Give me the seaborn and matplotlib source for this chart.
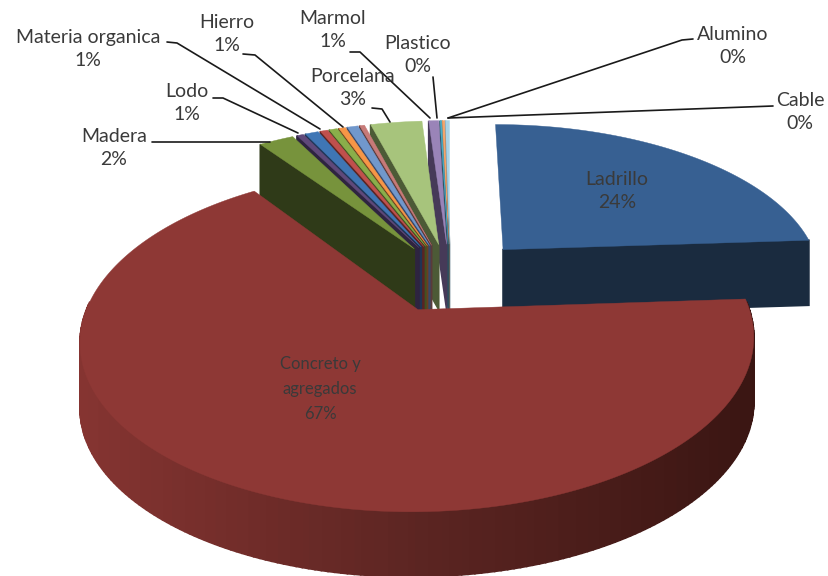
import numpy as np
import matplotlib
matplotlib.use("Agg")
import matplotlib.pyplot as plt
import seaborn as sns

# ---- data (clockwise from 12 o'clock) ----
slice_names = ["Ladrillo", "Concreto y agregados", "Madera", "", "Lodo", "", "Materia organica",
               "", "Hierro", "", "Porcelana", "Marmol", "Plastico", "Alumino", "Cable"]
slice_values = [23.9, 66.0, 2.1, 0.4, 0.8, 0.45, 0.5, 0.4, 0.65, 0.3, 3.1, 0.6, 0.1, 0.15, 0.25]
slice_explode = [0.25, 0.225, 0.22, 0.22, 0.22, 0.22, 0.22, 0.22, 0.22, 0.22, 0.22, 0.22, 0.22, 0.22, 0.22]
slice_colors = ["#376092", "#8E3835", "#77933C", "#5F497A", "#3F76B5", "#C0504D", "#8AAE4A",
                "#F79646", "#7198CC", "#C77A78", "#A7C47C", "#9A84B8", "#4BACC6", "#F4A46B", "#A9D3E6"]
wall_colors = ["#1A2B3F", "#3A1512", "#2F3A18", "#2E2440", "#1F3454", "#5A2422", "#3F5222",
               "#6A4020", "#38486A", "#5A3A3A", "#4C5A36", "#463A58", "#2A5060", "#705030", "#507080"]
label_text = ["Ladrillo\n24%", "Concreto y\nagregados\n67%", "Madera\n2%", "Lodo\n1%",
              "Materia organica\n1%", "Hierro\n1%", "Porcelana\n3%", "Marmol\n1%",
              "Plastico\n0%", "Alumino\n0%", "Cable\n0%"]

# ---- layout ----
CX, CY, RX, RY, K, DEPTH = 450, 277, 320, 155, 0.171, 65
label_pos = [(617, 191), (320, 389), (114, 148), (187, 103), (88, 49), (227, 34),
             (353, 88), (333, 30), (418, 55), (733, 46), (800, 112)]
label_size = [14, 12, 14, 14, 14, 14, 14, 14, 14, 14, 14]
label_spacing = [1.45, 1.7, 1.45, 1.45, 1.45, 1.45, 1.45, 1.45, 1.45, 1.45, 1.45]
leaders = [[(152, 142), (270, 142)],
           [(213, 98), (223, 98), (298, 133)],
           [(167, 42), (177, 43), (320, 129)],
           [(243, 54), (255, 55), (343, 127)],
           [(372, 108), (382, 109), (390, 122)],
           [(350, 52), (360, 52), (430, 118)],
           [(433, 77), (437, 118)],
           [(693, 39), (682, 40), (448, 118)],
           [(773, 106), (448, 118)]]


def project(X, Y):
    s = 1 / (1 + K * Y)
    return CX + RX * X * s, CY - RY * Y * s


def slice_points(start, end, n, explode):
    mid = (start + end) / 2
    ex, ey = explode * np.sin(mid), explode * np.cos(mid)
    th = np.linspace(start, end, n)
    rx, ry = project(ex + np.sin(th), ey + np.cos(th))
    ax_, ay_ = project(ex, ey)
    return (ax_, ay_), th, rx, ry


sns.set_theme(style="white")
plt.rcParams["font.family"] = ["Lato", "DejaVu Sans"]
fig = plt.figure(figsize=(8.29, 5.76), dpi=100)
ax = fig.add_axes([0, 0, 1, 1])
ax.set_xlim(0, 829)
ax.set_ylim(576, 0)
ax.axis("off")

edges = np.cumsum([0] + slice_values)
edges = edges / edges[-1] * 2 * np.pi
order = list(range(len(slice_values) - 1, 1, -1)) + [0, 1]


def quad(xa, ya, xb, yb, color, z):
    ax.fill([xa, xb, xb, xa], [ya, yb, yb + DEPTH, ya + DEPTH], color=color, lw=1.2, zorder=z)


for z, i in enumerate(order):
    a, b = edges[i], edges[i + 1]
    n = max(int((b - a) * 60), 3)
    (ax_, ay_), th, rx, ry = slice_points(a, b, n, slice_explode[i])
    zz = 2 + z
    # outer rim, front-facing part only
    rim_pal = sns.blend_palette(["#853431", "#5C2522", "#3A1512"], 64) if i == 1 else None
    for j in range(n - 1):
        if np.cos((th[j] + th[j + 1]) / 2) < 0.05:
            if rim_pal is not None:
                u = np.clip((rx[j] - 78) / (752 - 78), 0, 1)
                col = rim_pal[int(u * 63)]
            else:
                col = wall_colors[i]
            quad(rx[j], ry[j], rx[j + 1], ry[j + 1], col, zz)
    # cut faces turned to the viewer
    if np.sin(a) < 0:
        quad(ax_, ay_, rx[0], ry[0], wall_colors[i], zz)
    if np.sin(b) > 0:
        quad(ax_, ay_, rx[-1], ry[-1], wall_colors[i], zz)
    ax.fill(np.r_[ax_, rx], np.r_[ay_, ry], color=slice_colors[i], lw=0.3, zorder=zz)

for pts in leaders:
    xs, ys = zip(*pts)
    ax.plot(xs, ys, color="#1a1a1a", lw=1.2, zorder=40, solid_capstyle="round")

for txt, (x, y), fs, ls in zip(label_text, label_pos, label_size, label_spacing):
    ax.text(x, y, txt, ha="center", va="center", fontsize=fs, color="#3a3a3a",
            linespacing=ls, zorder=50)

fig.savefig("out.png", dpi=100)
